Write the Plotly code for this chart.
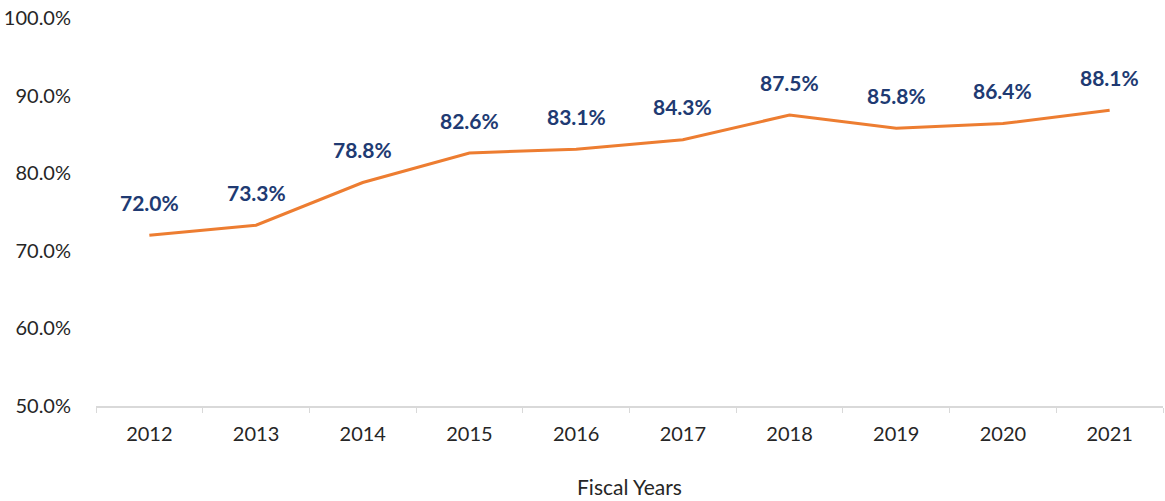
import plotly.graph_objects as go

years = ["2012", "2013", "2014", "2015", "2016", "2017", "2018", "2019", "2020", "2021"]
rates = [72.0, 73.3, 78.8, 82.6, 83.1, 84.3, 87.5, 85.8, 86.4, 88.1]
y_ticks = [50, 60, 70, 80, 90, 100]
y_tick_text = ["50.0%", "60.0%", "70.0%", "80.0%", "90.0%", "100.0%"]

fig = go.Figure()
fig.add_trace(go.Scatter(
    x=years, y=rates, mode="lines",
    line=dict(color="#ED7D31", width=3),
    hoverinfo="skip", showlegend=False,
))

for i, v in enumerate(rates):
    fig.add_annotation(
        x=i, y=v, xref="x", yref="y", text=f"<b>{v:.1f}%</b>", showarrow=False,
        yshift=33, font=dict(family="Lato, Open Sans, sans-serif", size=21, color="#203A72"),
    )

fig.update_layout(
    width=1165, height=501,
    margin=dict(l=96, r=2, t=18, b=95),
    paper_bgcolor="white", plot_bgcolor="white",
    font=dict(family="Lato, Open Sans, sans-serif", size=20, color="#262626"),
    xaxis=dict(
        type="category", categoryorder="array", categoryarray=years,
        range=[-0.5, len(years) - 0.5], autorange=False, automargin=False,
        tickson="boundaries", ticks="outside", ticklen=5, tickangle=0,
        tickcolor="#D9D9D9", showline=True, linecolor="#D9D9D9", linewidth=1.5,
        showgrid=False, ticklabelstandoff=9,
        title=dict(text="Fiscal Years", font=dict(size=21), standoff=37),
        tickfont=dict(size=20),
    ),
    yaxis=dict(
        range=[50, 100], tickvals=y_ticks, ticktext=y_tick_text, automargin=False,
        showgrid=False, zeroline=False, showline=False, ticks="",
        ticklabelstandoff=24, tickfont=dict(size=20),
    ),
)

fig.write_html("out.html", config={"displayModeBar": False},
               post_script="document.body.style.margin='0';")
